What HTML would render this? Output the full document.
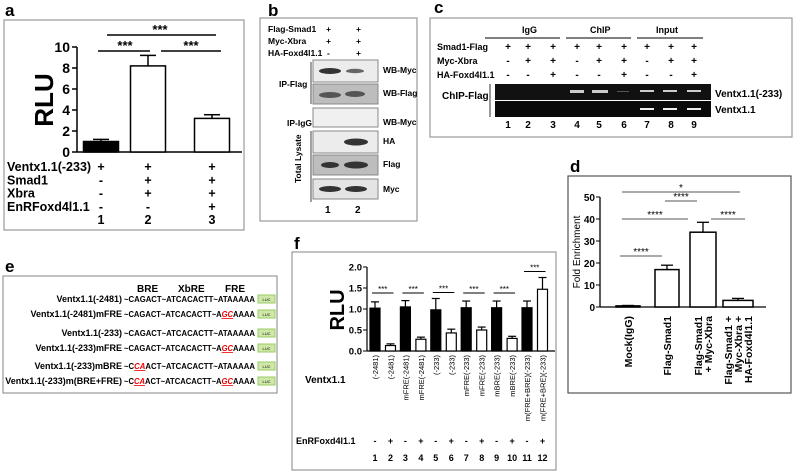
<!DOCTYPE html>
<html><head><meta charset="utf-8"><style>
body{margin:0;background:#fff}
svg{display:block;font-family:"Liberation Sans",Arial,sans-serif}
</style></head><body>
<svg id="fig" width="793" height="473" viewBox="0 0 793 473" xmlns="http://www.w3.org/2000/svg">
<g font-weight="bold" font-size="17">
<text x="5" y="16">a</text><text x="268" y="16">b</text><text x="434" y="13">c</text><text x="570" y="172">d</text><text x="5" y="272">e</text><text x="294" y="249">f</text>
</g>
<rect x="4" y="20" width="240" height="210" fill="none" stroke="#999" stroke-width="1.2"/>
<g id="pa"></g>
<g>
<rect x="260" y="18" width="157" height="203" fill="none" stroke="#999" stroke-width="1.2"/>
<g font-size="8.5" font-weight="bold">
<text x="268" y="32">Flag-Smad1</text><text x="268" y="44">Myc-Xbra</text><text x="268" y="56">HA-Foxd4l1.1</text>
<text x="326" y="32">+</text><text x="356" y="32">+</text><text x="326" y="44">+</text><text x="356" y="44">+</text><text x="327" y="56">-</text><text x="356" y="56">+</text>
<text x="279" y="87">IP-Flag</text><text x="287" y="126">IP-IgG</text>
<text transform="translate(301,183) rotate(-90)">Total Lysate</text>
<text x="383" y="73">WB-Myc</text><text x="383" y="96">WB-Flag</text><text x="383" y="125">WB-Myc</text>
<text x="383" y="144">HA</text><text x="383" y="167">Flag</text><text x="383" y="192">Myc</text>
<text x="325" y="213" font-size="10">1</text><text x="355" y="213" font-size="10">2</text>
</g>
<line x1="311" y1="62" x2="311" y2="104" stroke="#444"/><line x1="311" y1="131" x2="311" y2="202" stroke="#444"/>
<rect x="313" y="60" width="65" height="22" fill="#ececec" stroke="#888"/>
<rect x="313" y="84" width="65" height="20" fill="#bdbdbd" stroke="#888"/>
<rect x="313" y="108" width="65" height="19" fill="#f0f0f0" stroke="#888"/>
<rect x="313" y="131" width="65" height="22" fill="#ececec" stroke="#888"/>
<rect x="313" y="155" width="65" height="20" fill="#bdbdbd" stroke="#888"/>
<rect x="313" y="179" width="65" height="20" fill="#e4e4e4" stroke="#888"/>
<g fill="#333">
<ellipse cx="330" cy="71" rx="11" ry="3"/><ellipse cx="355" cy="71" rx="9" ry="2.2" fill="#666"/>
<ellipse cx="330" cy="95" rx="11" ry="3" fill="#555"/><ellipse cx="355" cy="94" rx="10" ry="3" fill="#555"/>
<ellipse cx="356" cy="142" rx="12" ry="3.5"/>
<ellipse cx="330" cy="165" rx="9" ry="3"/><ellipse cx="356" cy="165" rx="12" ry="3.5"/>
<ellipse cx="330" cy="189" rx="11" ry="3"/><ellipse cx="356" cy="189" rx="11" ry="3"/>
</g>
</g>
<g>
<rect x="430" y="18" width="362" height="119" fill="none" stroke="#999" stroke-width="1.2"/>
<g font-size="9" font-weight="bold">
<text x="522" y="33">IgG</text><text x="590" y="33">ChIP</text><text x="656" y="33">Input</text>
<text x="437" y="50">Smad1-Flag</text><text x="437" y="64">Myc-Xbra</text><text x="437" y="78">HA-Foxd4l1.1</text>
<text x="442" y="99" font-size="10">ChIP-Flag</text>
<text x="715" y="97" font-size="10">Ventx1.1(-233)</text><text x="715" y="113" font-size="10">Ventx1.1</text>
</g>
<g stroke="#333" stroke-width="1.2"><line x1="485" y1="38" x2="560" y2="38"/><line x1="566" y1="38" x2="631" y2="38"/><line x1="637" y1="38" x2="703" y2="38"/></g>
<line x1="490" y1="84" x2="490" y2="117" stroke="#555" stroke-width="1.2"/>
<rect x="495" y="84" width="216" height="16" fill="#111"/>
<rect x="495" y="101" width="216" height="16" fill="#0a0a0a"/>
<g fill="#ccc"><rect x="570" y="90" width="14" height="3"/><rect x="592" y="90" width="16" height="3"/><rect x="640" y="90" width="14" height="2"/><rect x="663" y="90" width="14" height="2"/><rect x="687" y="90" width="14" height="2"/><rect x="617" y="91" width="12" height="1" fill="#555"/>
<rect x="640" y="108" width="14" height="2" fill="#eee"/><rect x="663" y="108" width="14" height="2" fill="#eee"/><rect x="687" y="108" width="14" height="2" fill="#eee"/></g>
<g id="pc" font-size="10" font-weight="bold" text-anchor="middle"></g>
</g>
<rect x="568" y="176" width="223" height="217" fill="none" stroke="#555" stroke-width="1.2"/>
<g id="pd"></g>
<g>
<rect x="3" y="276" width="274" height="117" fill="none" stroke="#999" stroke-width="1.2"/>
<g font-size="10" font-weight="bold"><text x="137" y="292">BRE</text><text x="178" y="292">XbRE</text><text x="225" y="292">FRE</text></g>
<g id="pe" font-size="8" font-weight="bold"></g>
</g>
<rect x="292" y="252" width="264" height="218" fill="none" stroke="#999" stroke-width="1.2"/>
<g id="pf"></g>
</svg>
<script>
const NS="http://www.w3.org/2000/svg";
function el(p,t,a,txt){const e=document.createElementNS(NS,t);for(const k in a)e.setAttribute(k,a[k]);if(txt!=null)e.textContent=txt;p.appendChild(e);return e;}

// ===== Panel a data =====
const aCats=["1","2","3"];
const aVals=[1.0,8.2,3.2];
const aErr=[0.2,1.0,0.35];
const aTicks=[0,2,4,6,8,10];
const aRowNames=["Ventx1.1(-233)","Smad1","Xbra","EnRFoxd4l1.1"];
const aRowMarks=[["+","+","+"],["-","+","+"],["-","+","+"],["-","-","+"]];
(function(){
 const g=document.getElementById('pa');
 const y=v=>152-v*10.5, xc=[101,148,212], bw=35;
 el(g,'line',{x1:77,y1:y(10),x2:77,y2:y(0),stroke:'#000','stroke-width':1.5});
 el(g,'line',{x1:77,y1:y(0),x2:242,y2:y(0),stroke:'#000','stroke-width':1.5});
 aTicks.forEach(t=>{el(g,'line',{x1:72,y1:y(t),x2:77,y2:y(t),stroke:'#000','stroke-width':1.5});
  const tx=el(g,'text',{x:70,y:y(t)+5,'text-anchor':'end','font-size':14,'font-weight':'bold'},t);
  });
 const yt=el(g,'text',{transform:'translate(53,100) rotate(-90)','text-anchor':'middle','font-size':26,'font-weight':'bold'},'RLU');
 
 aVals.forEach((v,i)=>{
  el(g,'line',{x1:xc[i],y1:y(v+aErr[i]),x2:xc[i],y2:y(v),stroke:'#000','stroke-width':1.5});
  el(g,'line',{x1:xc[i]-8,y1:y(v+aErr[i]),x2:xc[i]+8,y2:y(v+aErr[i]),stroke:'#000','stroke-width':1.5});
  const r=el(g,'rect',{x:xc[i]-bw/2,y:y(v),width:bw,height:y(0)-y(v),fill:i==0?'#000':'#fff',stroke:'#000','stroke-width':1.5});
  
 });
 [[107,216,35,160],[98,150,51,125],[161,221,51,191]].forEach(s=>{
  el(g,'line',{x1:s[0],y1:s[2],x2:s[1],y2:s[2],stroke:'#000','stroke-width':1.5});
  el(g,'text',{x:s[3],y:s[2]-1,'text-anchor':'middle','font-size':13,'font-weight':'bold'},'***');});
 aRowNames.forEach((n,r)=>{
  el(g,'text',{x:7,y:171+r*13.3,'font-size':12.5,'font-weight':'bold'},n);
  aRowMarks[r].forEach((m,i)=>el(g,'text',{x:xc[i],y:171+r*13.3,'text-anchor':'middle','font-size':12.5,'font-weight':'bold'},m));});
 aCats.forEach((c,i)=>el(g,'text',{x:xc[i],y:224,'text-anchor':'middle','font-size':12.5,'font-weight':'bold'},c));
})();

// ===== Panel c lanes =====
const cLanes=["1","2","3","4","5","6","7","8","9"];
const cRows=[["+","+","+","+","+","+","+","+","+"],["-","+","+","-","+","+","-","+","+"],["-","-","+","-","-","+","-","-","+"]];
(function(){const g=document.getElementById('pc');const xs=[508,528,553,577,599,624,647,671,694];
 cRows.forEach((r,ri)=>r.forEach((m,i)=>el(g,'text',{x:xs[i],y:50+ri*14},m)));
 cLanes.forEach((l,i)=>el(g,'text',{x:xs[i],y:128},l));})();

// ===== Panel d data =====
const dCats=[["Mock(IgG)"],["Flag-Smad1"],["Flag-Smad1","+ Myc-Xbra"],["Flag-Smad1 +","Myc-Xbra +","HA-Foxd4l1.1"]];
const dVals=[0.5,17,34,3];
const dErr=[0.2,2,4.5,0.9];
const dTicks=[0,10,20,30,40,50];
(function(){
 const g=document.getElementById('pd');
 const y=v=>307-v*2.2, xc=[628,667,703,738], bw=[24,24,26,30];
 el(g,'line',{x1:600,y1:y(50),x2:600,y2:y(0),stroke:'#000','stroke-width':1.3});
 el(g,'line',{x1:600,y1:y(0),x2:766,y2:y(0),stroke:'#000','stroke-width':1.3});
 dTicks.forEach(t=>{el(g,'line',{x1:596,y1:y(t),x2:600,y2:y(t),stroke:'#000'});
  el(g,'text',{x:595,y:y(t)+4,'text-anchor':'end','font-size':10,'font-weight':'bold'},t);});
 el(g,'text',{transform:'translate(580,252) rotate(-90)','text-anchor':'middle','font-size':10},'Fold Enrichment');
 dVals.forEach((v,i)=>{
  el(g,'line',{x1:xc[i],y1:y(v+dErr[i]),x2:xc[i],y2:y(v),stroke:'#000','stroke-width':1.3});
  el(g,'line',{x1:xc[i]-6,y1:y(v+dErr[i]),x2:xc[i]+6,y2:y(v+dErr[i]),stroke:'#000','stroke-width':1.3});
  const r=el(g,'rect',{x:xc[i]-bw[i]/2,y:y(v),width:bw[i],height:y(0)-y(v),fill:'#fff',stroke:'#000','stroke-width':1.5});
  
  dCats[i].forEach((ln,j)=>el(g,'text',{transform:`translate(${xc[i]+4+(j-(dCats[i].length-1)/2)*10},316) rotate(-90)`,'text-anchor':'end','font-size':10.5,'font-weight':'bold'},ln));
 });
 [[622,740,192,'*'],[665,697,201,'****'],[622,688,219,'****'],[711,745,219,'****'],[620,662,256,'****']].forEach(s=>{
  el(g,'line',{x1:s[0],y1:s[2],x2:s[1],y2:s[2],stroke:'#555','stroke-width':1});
  el(g,'text',{x:(s[0]+s[1])/2,y:s[2]-1,'text-anchor':'middle','font-size':10},s[3]);});
})();

// ===== Panel e =====
const eNames=["Ventx1.1(-2481)","Ventx1.1(-2481)mFRE","Ventx1.1(-233)","Ventx1.1(-233)mFRE","Ventx1.1(-233)mBRE","Ventx1.1(-233)m(BRE+FRE)"];
const eBRE=[0,0,0,0,1,1], eFRE=[0,1,0,1,0,1];
(function(){const g=document.getElementById('pe');const ys=[302,317,336,351,369,384];
 eNames.forEach((n,i)=>{
  el(g,'text',{x:122,y:ys[i],'text-anchor':'end','font-size':9},n);
  const t=el(g,'text',{x:124,y:ys[i],'textLength':131,'lengthAdjust':'spacingAndGlyphs'});
  const parts=[['~C',0],[eBRE[i]?'CA':'AG',eBRE[i]],['ACT~ATCACACTT~A',0],[eFRE[i]?'GC':'TA',eFRE[i]],['AAAA',0]];
  parts.forEach(p=>{el(t,'tspan',p[1]?{fill:'#e00','font-style':'italic','text-decoration':'underline'}:{},p[0]);});
  el(g,'rect',{x:258,y:ys[i]-7,width:17,height:8,fill:'#cfe8a8',stroke:'#9c6'});
  el(g,'text',{x:266.5,y:ys[i]-1,'text-anchor':'middle','font-size':4,'font-weight':'normal'},'LUC');
 });})();

// ===== Panel f data =====
const fLabels=["(-2481)","(-2481)","mFRE(-2481)","mFRE(-2481)","(-233)","(-233)","mFRE(-233)","mFRE(-233)","mBRE(-233)","mBRE(-233)","m(FRE+BRE)(-233)","m(FRE+BRE)(-233)"];
const fVals=[1.02,0.13,1.05,0.28,0.98,0.43,1.03,0.50,1.03,0.30,1.03,1.47];
const fErr=[0.15,0.04,0.15,0.05,0.27,0.09,0.16,0.07,0.16,0.05,0.16,0.28];
const fEnR=["-","+","-","+","-","+","-","+","-","+","-","+"];
const fTicks=[0,0.5,1.0,1.5,2.0];
(function(){
 const g=document.getElementById('pf');
 const y=v=>351-v*42, x=i=>375+Math.floor(i/2)*30.4+(i%2)*15.5, bw=10;
 el(g,'line',{x1:367,y1:y(2),x2:367,y2:y(0),stroke:'#000','stroke-width':1.2});
 el(g,'line',{x1:367,y1:y(0),x2:555,y2:y(0),stroke:'#000','stroke-width':1.2});
 fTicks.forEach(t=>{el(g,'line',{x1:363,y1:y(t),x2:367,y2:y(t),stroke:'#000'});
  el(g,'text',{x:362,y:y(t)+3.5,'text-anchor':'end','font-size':9.5,'font-weight':'bold'},t.toFixed(1));});
 el(g,'text',{transform:'translate(344,310) rotate(-90)','text-anchor':'middle','font-size':20,'font-weight':'bold'},'RLU');
 fVals.forEach((v,i)=>{
  const c=x(i);
  el(g,'line',{x1:c,y1:y(v+fErr[i]),x2:c,y2:y(v),stroke:'#000','stroke-width':1.2});
  el(g,'line',{x1:c-4,y1:y(v+fErr[i]),x2:c+4,y2:y(v+fErr[i]),stroke:'#000','stroke-width':1.2});
  const r=el(g,'rect',{x:c-bw/2,y:y(v),width:bw,height:y(0)-y(v),fill:i%2==0?'#000':'#fff',stroke:'#000','stroke-width':1.2});
  
  el(g,'text',{transform:`translate(${c+3},355) rotate(-90)`,'text-anchor':'end','font-size':7.5},fLabels[i]);
  el(g,'text',{x:c,y:444,'text-anchor':'middle','font-size':9,'font-weight':'bold'},fEnR[i]);
  el(g,'text',{x:c,y:461,'text-anchor':'middle','font-size':9,'font-weight':'bold'},i+1);
  if(i%2==0){const top=Math.max(fVals[i]+fErr[i],fVals[i+1]+fErr[i+1]);const ly=Math.min(y(1.38),y(top)-6);
   el(g,'line',{x1:c-3,y1:ly,x2:x(i+1)+3,y2:ly,stroke:'#000'});
   el(g,'text',{x:(c+x(i+1))/2,y:ly-1,'text-anchor':'middle','font-size':8},'***');}
 });
 el(g,'text',{x:305,y:383,'font-size':10,'font-weight':'bold'},'Ventx1.1');
 el(g,'text',{x:296,y:444,'font-size':9,'font-weight':'bold'},'EnRFoxd4l1.1');
})();
</script>
</body></html>
